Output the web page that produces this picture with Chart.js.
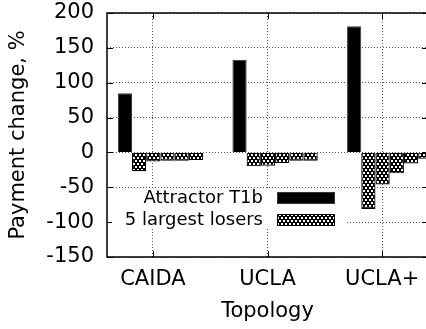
<!DOCTYPE html>
<html>
<head>
<meta charset="utf-8">
<script src="https://cdn.jsdelivr.net/npm/chart.js@4"></script>
<style>
  html, body { margin: 0; padding: 0; background: #fff; overflow: hidden; }
</style>
</head>
<body>
<canvas id="chart" width="432" height="329"></canvas>
<script>
// Data
const categories = ['CAIDA', 'UCLA', 'UCLA+'];
const attractorT1b = [85, 133, 181];
const losersCAIDA = [-27, -13, -12, -12, -11];
const losersUCLA = [-20, -19, -15, -12, -12];
const losersUCLAplus = [-81, -46, -30, -16, -9];
const yTicks = [-150, -100, -50, 0, 50, 100, 150, 200];

const losersByCategory = [losersCAIDA, losersUCLA, losersUCLAplus];
const groupShift = 0.066; // clusters sit a little right of their tick
const fontFamily = '"DejaVu Sans", Verdana, sans-serif';

const canvas = document.getElementById('chart');
const ctx = canvas.getContext('2d');

// Crosshatch fill: staggered white dots on black, like the gnuplot pattern
function makeHatch() {
    const c = document.createElement('canvas');
    c.width = 4;
    c.height = 6;
    const g = c.getContext('2d');
    g.fillStyle = '#000';
    g.fillRect(0, 0, 4, 6);
    g.fillStyle = '#fff';
    g.fillRect(1, 1, 2, 2);
    g.fillRect(3, 4, 1, 2);
    g.fillRect(0, 4, 1, 2);
    return ctx.createPattern(c, 'repeat');
}
const hatch = makeHatch();

const datasets = [{
    label: 'Attractor T1b',
    data: categories.map((c, i) => ({ x: i + groupShift, y: attractorT1b[i] })),
    backgroundColor: '#000',
    borderColor: '#333',
    borderWidth: 1
}];
for (let k = 0; k < 5; k++) {
    datasets.push({
        label: '5 largest losers',
        data: categories.map((c, i) => ({ x: i + groupShift, y: losersByCategory[i][k] })),
        backgroundColor: hatch,
        borderColor: '#000',
        borderWidth: 1.2
    });
}

// Frame, inward tick marks and the opaque key box
const framePlugin = {
    id: 'frame',
    afterDraw(chart) {
        const { ctx, chartArea: a, scales } = chart;
        ctx.save();
        ctx.strokeStyle = '#000';
        ctx.lineWidth = 1;
        ctx.beginPath();
        yTicks.forEach(v => {
            const y = Math.round(scales.y.getPixelForValue(v)) + 0.5;
            ctx.moveTo(a.left, y);
            ctx.lineTo(a.left + 6, y);
            ctx.moveTo(a.right, y);
            ctx.lineTo(a.right - 6, y);
        });
        categories.forEach((c, i) => {
            const x = Math.round(scales.x.getPixelForValue(i)) + 0.5;
            ctx.moveTo(x, a.bottom);
            ctx.lineTo(x, a.bottom - 6);
            ctx.moveTo(x, a.top);
            ctx.lineTo(x, a.top + 6);
        });
        ctx.stroke();
        ctx.lineWidth = 1.5;
        ctx.strokeRect(a.left, a.top, a.right - a.left, a.bottom - a.top);

        // key
        ctx.fillStyle = '#fff';
        ctx.fillRect(112, 189, 235, 38);
        const entries = [chart.data.datasets[0], chart.data.datasets[1]];
        ctx.font = '18px ' + fontFamily;
        ctx.textAlign = 'right';
        ctx.textBaseline = 'middle';
        entries.forEach((ds, i) => {
            const cy = 198 + 22 * i;
            ctx.fillStyle = '#000';
            ctx.fillText(ds.label, 263, cy);
            ctx.fillStyle = ds.backgroundColor;
            ctx.fillRect(277, cy - 6, 58, 12);
            ctx.lineWidth = 1;
            ctx.strokeStyle = ds.borderColor;
            ctx.strokeRect(277.5, cy - 5.5, 57, 11);
        });
        ctx.restore();
    }
};

new Chart(ctx, {
    type: 'bar',
    data: { datasets: datasets },
    options: {
        responsive: false,
        animation: false,
        categoryPercentage: 0.744,
        barPercentage: 1,
        layout: { padding: { top: 13, right: 4, bottom: 0, left: 0 } },
        plugins: {
            legend: { display: false },
            tooltip: { enabled: false }
        },
        scales: {
            x: {
                type: 'linear',
                min: -0.4,
                max: 2.4,
                offset: false,
                afterBuildTicks: scale => {
                    scale.ticks = categories.map((c, i) => ({ value: i }));
                },
                afterFit: scale => {
                    scale.height = 72;
                    scale.paddingLeft = 0;
                    scale.paddingRight = 0;
                },
                ticks: {
                    callback: v => categories[v],
                    color: '#000',
                    padding: 10,
                    maxRotation: 0,
                    autoSkip: false,
                    font: { family: fontFamily, size: 21 }
                },
                grid: { color: '#555', lineWidth: 1, drawTicks: false, offset: false },
                border: { display: false, dash: [1, 2] },
                title: {
                    display: true,
                    text: 'Topology',
                    color: '#000',
                    padding: { top: 0, bottom: 5 },
                    font: { family: fontFamily, size: 21 }
                }
            },
            y: {
                min: -150,
                max: 200,
                afterBuildTicks: scale => {
                    scale.ticks = yTicks.map(v => ({ value: v }));
                },
                afterFit: scale => {
                    scale.width = 107;
                    scale.paddingTop = 0;
                    scale.paddingBottom = 0;
                },
                ticks: {
                    color: '#000',
                    padding: 13,
                    font: { family: fontFamily, size: 21 }
                },
                grid: { color: '#555', lineWidth: 1, drawTicks: false },
                border: { display: false, dash: [1, 2] },
                title: {
                    display: true,
                    text: 'Payment change, %',
                    color: '#000',
                    padding: { top: 6, bottom: 0 },
                    font: { family: fontFamily, size: 21 }
                }
            }
        }
    },
    plugins: [framePlugin]
});
</script>
</body>
</html>
